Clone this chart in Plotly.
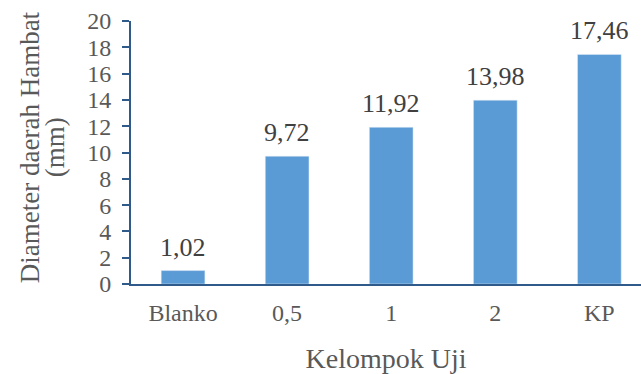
import plotly.graph_objects as go

# Inhibition zone diameter per test group
kelompok = ["Blanko", "0,5", "1", "2", "KP"]
diameter = [1.02, 9.72, 11.92, 13.98, 17.46]
label_nilai = ["1,02", "9,72", "11,92", "13,98", "17,46"]
y_ticks = [0, 2, 4, 6, 8, 10, 12, 14, 16, 18, 20]
judul_y = ["Diameter daerah Hambat", "(mm)"]

FONT = "Liberation Serif"
TEXT = "#595959"
LABEL = "#404040"
AXIS = "#2F5A8A"

posisi = list(range(len(kelompok)))

fig = go.Figure(
    go.Bar(
        x=posisi,
        y=diameter,
        marker=dict(color="#5B9BD5"),
        width=0.42,
        hoverinfo="skip",
    )
)

# value labels above each bar
for xi, yi, teks in zip(posisi, diameter, label_nilai):
    fig.add_annotation(
        x=xi, y=yi, text=teks, showarrow=False,
        xanchor="center", yanchor="bottom", yshift=7,
        font=dict(family=FONT, size=26, color=LABEL),
    )

# two-line y-axis title, set closer together than the default line height
for teks, geser in zip(judul_y, [-101, -76]):
    fig.add_annotation(
        xref="paper", yref="paper", x=0, y=0.52, xshift=geser,
        text=teks, showarrow=False, textangle=-90,
        xanchor="center", yanchor="middle",
        font=dict(family=FONT, size=27, color=TEXT),
    )

fig.update_layout(
    width=641,
    height=374,
    margin=dict(l=131, r=0, t=21, b=90),
    plot_bgcolor="white",
    paper_bgcolor="white",
    showlegend=False,
    font=dict(family=FONT, color=TEXT),
)

fig.update_xaxes(
    tickmode="array",
    tickvals=posisi,
    ticktext=kelompok,
    range=[-0.5, 4.4],
    showline=True,
    linecolor=AXIS,
    linewidth=2,
    ticks="",
    ticklabelstandoff=6,
    tickfont=dict(family=FONT, size=24, color=TEXT),
    showgrid=False,
    zeroline=False,
    title=dict(text="Kelompok Uji", font=dict(family=FONT, size=28, color=TEXT), standoff=30),
)

fig.update_yaxes(
    range=[0, 20],
    tickvals=y_ticks,
    showline=True,
    linecolor=AXIS,
    linewidth=2,
    ticks="outside",
    ticklen=7,
    tickwidth=1.5,
    tickcolor=AXIS,
    ticklabelstandoff=6,
    tickfont=dict(family=FONT, size=24, color=TEXT),
    showgrid=False,
    zeroline=False,
)

fig.write_html("out.html")
